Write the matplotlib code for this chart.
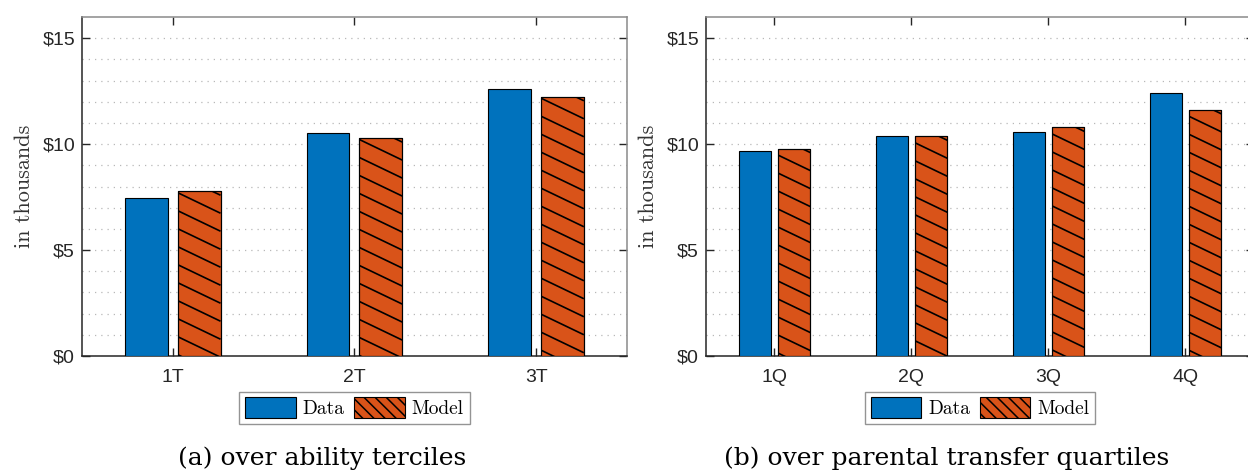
import numpy as np
import matplotlib
matplotlib.use('Agg')
import matplotlib.pyplot as plt
from matplotlib.patches import Patch

# values (in thousands of dollars)
ability_labels = ['1T', '2T', '3T']
ability_data = [7.44, 10.54, 12.60]
ability_model = [7.78, 10.29, 12.24]

transfer_labels = ['1Q', '2Q', '3Q', '4Q']
transfer_data = [9.67, 10.40, 10.57, 12.40]
transfer_model = [9.79, 10.37, 10.79, 11.62]

y_ticks = [0, 5, 10, 15]
y_tick_labels = ['\\$0', '\\$5', '\\$10', '\\$15']

BLUE = '#0072BD'
ORANGE = '#D95319'
SANS = 'Liberation Sans'
CM = 'cmr10'

plt.rcParams['hatch.linewidth'] = 1.1
plt.rcParams['axes.formatter.use_mathtext'] = True


def hatch_bars(ax, bars, spacing=18, slope=0.48):
    # matlab-like hatching: shallow diagonal lines, clipped to each bar
    inv = ax.transData.inverted()
    for b in bars:
        (px0, py0), (px1, py1) = ax.transData.transform(
            [(b.get_x(), 0), (b.get_x() + b.get_width(), b.get_height())])
        w = px1 - px0
        for c in np.arange(py1 + slope * w - 4, py0 - spacing, -spacing):
            pts = inv.transform([(px0, c), (px1, c - slope * w)])
            ln, = ax.plot(pts[:, 0], pts[:, 1], color='black', lw=1.2,
                          zorder=4, solid_capstyle='butt')
            ln.set_clip_path(b)


def draw_panel(ax, labels, data, model):
    x = np.arange(1, len(labels) + 1)
    w = 0.235
    ax.set_xlim(0.5, len(labels) + 0.5)
    ax.set_ylim(0, 16)

    ax.bar(x - 0.145, data, w, color=BLUE, edgecolor='black', linewidth=0.8,
           zorder=3)
    mbars = ax.bar(x + 0.145, model, w, color=ORANGE, edgecolor='black',
                   linewidth=0.8, zorder=3)
    hatch_bars(ax, mbars)
    for b in mbars:
        # redraw the outline on top of the hatch lines
        ax.add_patch(plt.Rectangle(b.get_xy(), b.get_width(), b.get_height(),
                                   fill=False, edgecolor='black', lw=0.8, zorder=5))

    ax.set_xticks(x)
    ax.set_xticklabels(labels, fontfamily=SANS, fontsize=14, color='#262626')
    ax.set_yticks(y_ticks)
    ax.set_yticklabels(y_tick_labels, fontfamily=SANS, fontsize=14, color='#262626')
    ax.set_yticks(np.arange(1, 16), minor=True)
    ax.tick_params(axis='both', which='major', direction='in', length=6,
                   width=1, top=True, right=True, colors='#262626')
    ax.tick_params(axis='x', pad=9)
    ax.tick_params(axis='y', pad=5)
    ax.tick_params(axis='y', which='minor', length=0)
    ax.grid(axis='y', which='both', linestyle=(0, (1, 4)), color='#b8b8b8',
            linewidth=0.9, zorder=0)
    ax.set_axisbelow(True)
    for s in ['left', 'bottom']:
        ax.spines[s].set_color('#262626')
        ax.spines[s].set_linewidth(1.1)
    for s in ['top', 'right']:
        ax.spines[s].set_color('#8a8a8a')
        ax.spines[s].set_linewidth(1.1)

    ax.set_ylabel('in thousands', fontfamily=CM, fontsize=16, color='#333333',
                  labelpad=6)

    handles = [Patch(facecolor=BLUE, edgecolor='black', lw=0.8),
               Patch(facecolor=ORANGE, edgecolor='black', lw=0.8, hatch='\\\\\\')]
    leg = ax.legend(handles, ['Data', 'Model'], loc='upper center',
                    bbox_to_anchor=(0.5, -0.105), ncol=2,
                    prop={'family': CM, 'size': 14}, frameon=True, fancybox=False,
                    handlelength=2.6, handleheight=1.25, handletextpad=0.35,
                    columnspacing=0.5, borderpad=0.3, borderaxespad=0)
    leg.get_frame().set_edgecolor('#7a7a7a')
    leg.get_frame().set_linewidth(1.0)
    return ax


fig = plt.figure(figsize=(12.48, 4.75), dpi=100)

ax1 = fig.add_axes([0.0657, 0.2505, 0.4367, 0.7135])
draw_panel(ax1, ability_labels, ability_data, ability_model)

ax2 = fig.add_axes([0.5657, 0.2505, 0.4391, 0.7135])
draw_panel(ax2, transfer_labels, transfer_data, transfer_model)

fig.text(322 / 1248, 0.036, '(a) over ability terciles', ha='center', va='center',
         fontfamily='DejaVu Serif', fontsize=18)
fig.text(947 / 1248, 0.036, '(b) over parental transfer quartiles', ha='center',
         va='center', fontfamily='DejaVu Serif', fontsize=18)

fig.savefig('out.png', dpi=100)
